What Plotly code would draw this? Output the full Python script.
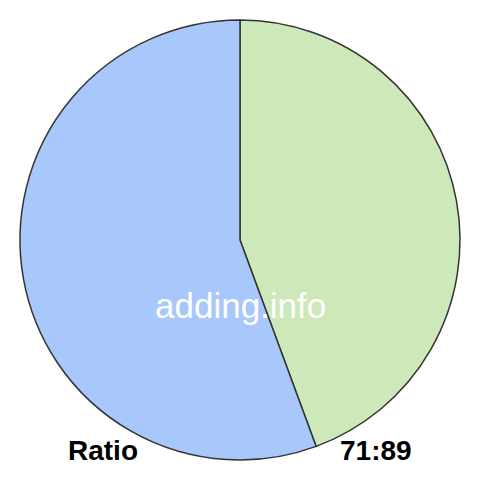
import plotly.graph_objects as go

labels = ['71', '89']
values = [71, 89]
colors = ['#cde8b9', '#a8c7fa']

fig = go.Figure(go.Pie(
    labels=labels,
    values=values,
    sort=False,
    direction='clockwise',
    rotation=0,
    textinfo='none',
    hoverinfo='label+value',
    marker=dict(colors=colors, line=dict(color='#333333', width=1.5)),
    domain=dict(x=[20 / 480, 460 / 480], y=[20 / 480, 460 / 480]),
))

fig.add_annotation(text='adding.info', x=0.5, y=1 - 305 / 480, xref='paper', yref='paper',
                   xanchor='center', yanchor='middle', showarrow=False,
                   font=dict(family='Liberation Sans', size=35, color='white'))
fig.add_annotation(text='<b>Ratio</b>', x=103 / 480, y=1 - 450 / 480, xref='paper', yref='paper',
                   xanchor='center', yanchor='middle', showarrow=False,
                   font=dict(family='Liberation Sans', size=28, color='black'))
fig.add_annotation(text='<b>71:89</b>', x=376 / 480, y=1 - 450 / 480, xref='paper', yref='paper',
                   xanchor='center', yanchor='middle', showarrow=False,
                   font=dict(family='Liberation Sans', size=28, color='black'))

fig.update_layout(width=480, height=480, margin=dict(l=0, r=0, t=0, b=0),
                  showlegend=False, paper_bgcolor='white')

fig.write_html("out.html", config={'displayModeBar': False},
               post_script="document.body.style.margin='0';")
